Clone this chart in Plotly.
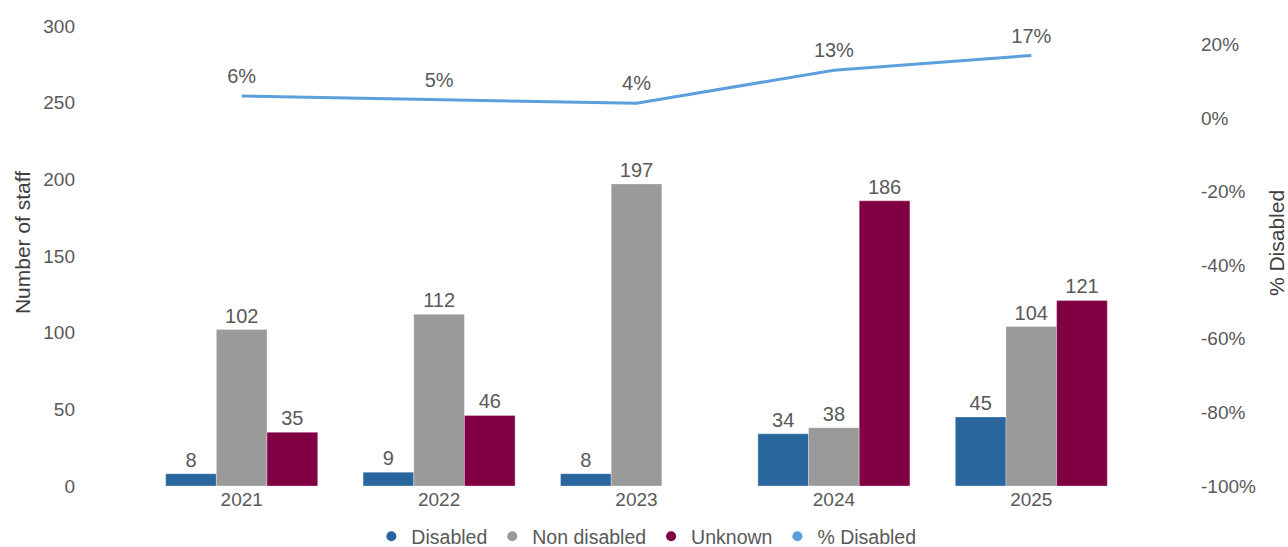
import plotly.graph_objects as go

# Staff counts by disability status, 2021-2025
years = ["2021", "2022", "2023", "2024", "2025"]
disabled = [8, 9, 8, 34, 45]
non_disabled = [102, 112, 197, 38, 104]
unknown = [35, 46, None, 186, 121]
pct_disabled = [0.06, 0.05, 0.04, 0.13, 0.17]

left_ticks = [0, 50, 100, 150, 200, 250, 300]
right_ticks = [-1.0, -0.8, -0.6, -0.4, -0.2, 0.0, 0.2]
right_labels = ["-100%", "-80%", "-60%", "-40%", "-20%", "0%", "20%"]

C_DIS = "#2A669E"
C_NON = "#9A9A9A"
C_UNK = "#800043"
C_PCT = "#5B9FDD"
TXT = "#595959"
FONT = "Liberation Sans, Arial, sans-serif"

fig = go.Figure()

for name, vals, col in [("Disabled", disabled, C_DIS),
                        ("Non disabled", non_disabled, C_NON),
                        ("Unknown", unknown, C_UNK)]:
    fig.add_trace(go.Bar(
        x=years, y=vals, name=name, marker_color=col,
        marker_line=dict(color="rgba(255,255,255,0.6)", width=0.5),
        text=[("" if v is None else str(v)) for v in vals],
        textposition="outside", cliponaxis=False,
        textfont=dict(size=20, color=TXT, family=FONT),
        showlegend=False, yaxis="y",
    ))

# Share of disabled staff; invisible markers lift the labels off the line
fig.add_trace(go.Scatter(
    x=years, y=pct_disabled, name="% Disabled", mode="lines+markers+text",
    line=dict(color=C_PCT, width=3),
    marker=dict(size=11, color="rgba(0,0,0,0)"),
    text=[f"{round(v * 100)}%" for v in pct_disabled],
    textposition="top center",
    textfont=dict(size=20, color=TXT, family=FONT),
    yaxis="y2", showlegend=False, cliponaxis=False,
))

# Legend entries drawn as round markers
for name, col in [("Disabled", C_DIS), ("Non disabled", C_NON),
                  ("Unknown", C_UNK), ("% Disabled", C_PCT)]:
    fig.add_trace(go.Scatter(
        x=[None], y=[None], mode="markers", name=name,
        marker=dict(color=col, size=10, symbol="circle"),
        showlegend=True,
    ))

fig.update_layout(
    width=1288, height=547,
    margin=dict(l=143, r=158, t=26, b=61, autoexpand=False),
    paper_bgcolor="white", plot_bgcolor="white",
    font=dict(family=FONT, size=19, color=TXT),
    barmode="group", bargap=0.23, bargroupgap=0,
    xaxis=dict(showgrid=False, showline=False, zeroline=False,
               ticks="", tickfont=dict(size=19, color=TXT, family=FONT)),
    yaxis=dict(range=[0, 300], tickvals=left_ticks, showgrid=False,
               zeroline=False, showline=False, ticks="",
               ticklabelstandoff=67,
               tickfont=dict(size=19, color=TXT, family=FONT)),
    yaxis2=dict(range=[-1.0, 0.25], tickvals=right_ticks, ticktext=right_labels,
                overlaying="y", side="right", showgrid=False,
                zeroline=False, showline=False, ticks="",
                ticklabelstandoff=70,
                tickfont=dict(size=19, color=TXT, family=FONT)),
    legend=dict(orientation="h", x=0.51, xanchor="center", y=-0.11,
                yanchor="middle", font=dict(size=19.5, color=TXT, family=FONT),
                itemwidth=30, tracegroupgap=0, bgcolor="rgba(0,0,0,0)"),
    annotations=[
        dict(text="Number of staff", textangle=-90, xref="paper", yref="paper",
             x=(22 - 143) / 987, y=0.528, xanchor="center", yanchor="middle",
             showarrow=False, font=dict(size=21, color="#404040", family=FONT)),
        dict(text="% Disabled", textangle=-90, xref="paper", yref="paper",
             x=(1276 - 143) / 987, y=0.528, xanchor="center", yanchor="middle",
             showarrow=False, font=dict(size=21, color="#404040", family=FONT)),
    ],
)

fig.write_html("out.html")
